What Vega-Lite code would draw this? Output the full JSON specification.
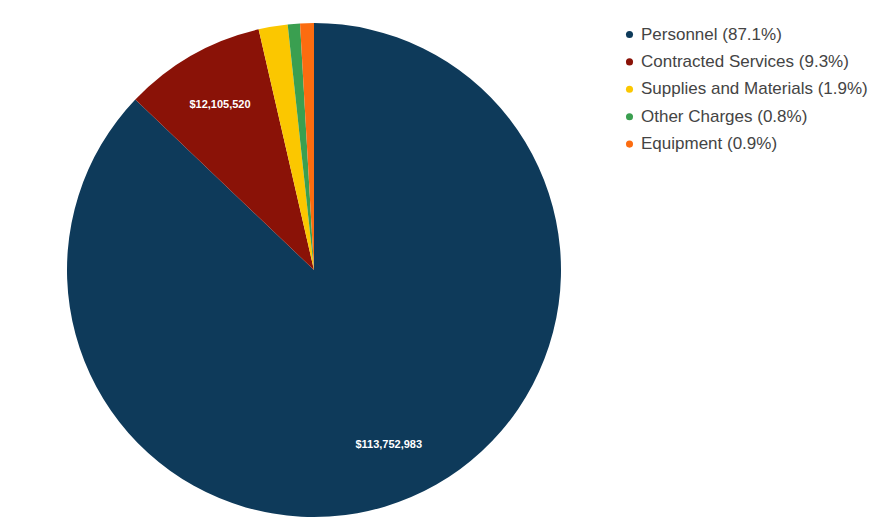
{
  "$schema": "https://vega.github.io/schema/vega-lite/v6.json",
  "width": 494,
  "height": 494,
  "autosize": {"type": "none"},
  "padding": {"left": 67, "top": 23, "right": 326, "bottom": 12},
  "background": "white",
  "data": {
    "values": [
      {"category": "Personnel (87.1%)", "amount": 113752983},
      {"category": "Contracted Services (9.3%)", "amount": 12105520},
      {"category": "Supplies and Materials (1.9%)", "amount": 2480000},
      {"category": "Other Charges (0.8%)", "amount": 1045000},
      {"category": "Equipment (0.9%)", "amount": 1175000}
    ]
  },
  "transform": [{"window": [{"op": "row_number", "as": "rank"}]}],
  "encoding": {
    "theta": {"field": "amount", "type": "quantitative", "stack": true},
    "order": {"field": "rank", "type": "quantitative"}
  },
  "layer": [
    {
      "mark": {"type": "arc", "outerRadius": 247},
      "encoding": {
        "color": {
          "field": "category",
          "type": "nominal",
          "scale": {
            "domain": ["Personnel (87.1%)", "Contracted Services (9.3%)", "Supplies and Materials (1.9%)", "Other Charges (0.8%)", "Equipment (0.9%)"],
            "range": ["#0e3a5a", "#8a1207", "#fbc700", "#3a9f50", "#fc6c10"]
          },
          "legend": {"title": null}
        }
      }
    },
    {
      "mark": {"type": "text", "radius": 190, "fontSize": 11, "fontWeight": "bold", "font": "Liberation Sans", "color": "white"},
      "encoding": {
        "text": {
          "condition": {"test": "datum.amount > 5000000", "field": "amount", "type": "quantitative", "format": "$,.0f"},
          "value": ""
        }
      }
    }
  ],
  "config": {
    "view": {"stroke": null},
    "legend": {
      "orient": "right",
      "symbolType": "circle",
      "symbolSize": 50,
      "labelFontSize": 17,
      "labelFont": "Liberation Sans",
      "labelColor": "#444444",
      "labelLimit": 320,
      "rowPadding": 9.4,
      "offset": 57,
      "padding": 3,
      "labelOffset": 3
    }
  }
}
